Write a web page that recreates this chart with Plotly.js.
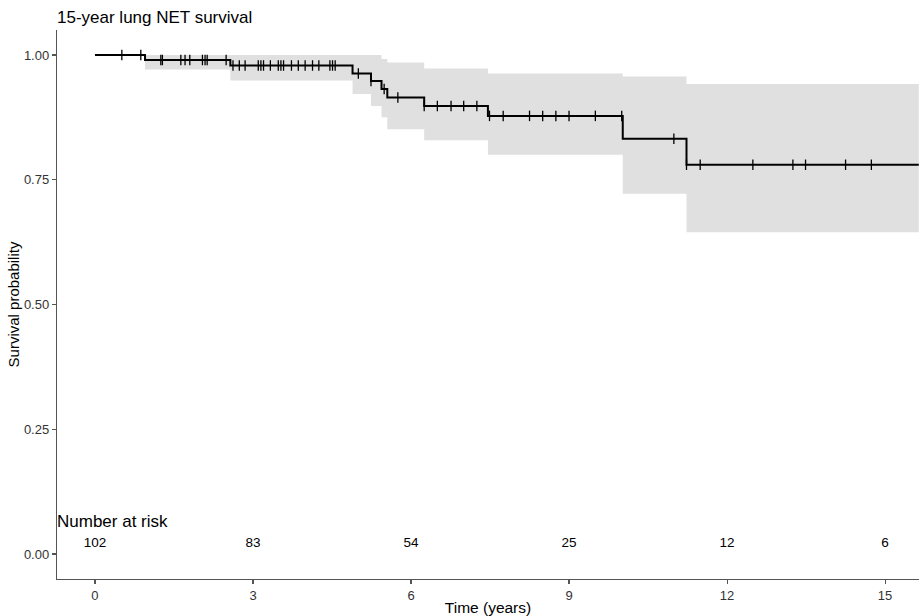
<!DOCTYPE html>
<html>
<head>
<meta charset="utf-8">
<script src="https://cdn.plot.ly/plotly-3.0.1.min.js"></script>
<style>html,body{margin:0;padding:0;background:#fff;}#chart{width:919px;height:616px;}</style>
</head>
<body>
<div id="chart"></div>
<script>
// Kaplan-Meier step data
const eventTimes = [0, 0.95, 2.57, 4.89, 5.24, 5.44, 5.55, 6.25, 7.46, 10.02, 11.23];
const survival   = [1.000, 0.990, 0.979, 0.963, 0.948, 0.932, 0.915, 0.898, 0.878, 0.832, 0.780];
const upperCI    = [1.000, 1.000, 1.000, 1.000, 1.000, 0.992, 0.985, 0.973, 0.963, 0.957, 0.942];
const lowerCI    = [1.000, 0.971, 0.949, 0.922, 0.898, 0.875, 0.851, 0.829, 0.800, 0.722, 0.645];
const followUpEnd = 15.64;

// Censoring times
const censorTimes = [0.51, 0.87, 1.25, 1.28, 1.63, 1.71, 1.80, 2.04, 2.09, 2.13, 2.49,
  2.62, 2.74, 2.85, 3.10, 3.15, 3.20, 3.33, 3.48, 3.53, 3.58, 3.73, 3.86, 3.99, 4.13, 4.25,
  4.46, 4.51, 4.56, 5.00, 5.24, 5.49, 5.75, 6.25, 6.50, 6.76, 7.00, 7.25, 7.49, 7.75, 8.25,
  8.50, 8.75, 9.00, 9.50, 10.00, 10.99, 11.23, 11.49, 12.49, 13.25, 13.49, 14.25, 14.74];

// Number at risk table
const riskTimes  = [0, 3, 6, 9, 12, 15];
const riskCounts = [102, 83, 54, 25, 12, 6];

// Axis ticks
const xTicks = [0, 3, 6, 9, 12, 15];
const yTicks = [0, 0.25, 0.5, 0.75, 1.0];

function stepValue(arrT, arrV, t) {
  let v = arrV[0];
  for (let i = 0; i < arrT.length; i++) { if (arrT[i] <= t) v = arrV[i]; }
  return v;
}

const xs = eventTimes.concat([followUpEnd]);
const ext = a => a.concat([a[a.length - 1]]);
const FONT = 'Liberation Sans, Arial, sans-serif';

const traces = [
  { x: xs, y: ext(lowerCI), mode: 'lines', line: { shape: 'hv', width: 0, color: 'rgba(0,0,0,0)' },
    hoverinfo: 'skip', showlegend: false },
  { x: xs, y: ext(upperCI), mode: 'lines', line: { shape: 'hv', width: 0, color: 'rgba(0,0,0,0)' },
    fill: 'tonexty', fillcolor: '#e0e0e0', hoverinfo: 'skip', showlegend: false },
  { x: xs, y: ext(survival), mode: 'lines', line: { shape: 'hv', width: 2, color: '#000' },
    showlegend: false },
  { x: censorTimes, y: censorTimes.map(t => stepValue(eventTimes, survival, t)), mode: 'markers',
    marker: { symbol: 'line-ns', size: 7.5, line: { width: 1.3, color: '#000' } }, showlegend: false },
  { x: riskTimes, y: riskTimes.map(() => 0.02), mode: 'text', text: riskCounts.map(String),
    textfont: { family: FONT, size: 13.5, color: '#000' },
    textposition: 'middle center', showlegend: false, hoverinfo: 'skip' }
];

const layout = {
  width: 919, height: 616,
  margin: { l: 57, r: 0, t: 30, b: 37 },
  paper_bgcolor: '#fff', plot_bgcolor: '#fff',
  font: { family: FONT, color: '#000' },
  title: { text: '15-year lung NET survival', x: 57 / 919, xref: 'container', xanchor: 'left',
    y: 1 - 17 / 616, yref: 'container', yanchor: 'middle',
    font: { size: 17, color: '#000', family: FONT } },
  xaxis: {
    range: [-0.721, 15.644], tickvals: xTicks, ticktext: xTicks.map(String),
    showline: true, linecolor: '#555', linewidth: 1.2, ticks: 'outside', ticklen: 4,
    tickcolor: '#555', tickwidth: 1.1, showgrid: false, zeroline: false,
    tickfont: { size: 13, color: '#333' },
    title: { text: 'Time (years)', font: { size: 15.5, color: '#000' }, standoff: 2 }
  },
  yaxis: {
    range: [-0.0501, 1.0501], tickvals: yTicks, ticktext: yTicks.map(v => v.toFixed(2)),
    showline: true, linecolor: '#555', linewidth: 1.2, ticks: 'outside', ticklen: 4,
    tickcolor: '#555', tickwidth: 1.1, showgrid: false, zeroline: false,
    tickfont: { size: 13, color: '#333' },
    title: { text: 'Survival probability', font: { size: 15, color: '#000' }, standoff: 0 }
  },
  annotations: [
    { text: 'Number at risk', xref: 'paper', yref: 'y', x: 0, y: 0.066, xanchor: 'left',
      xshift: -2, yanchor: 'middle', showarrow: false, font: { size: 17, color: '#000' } }
  ]
};

Plotly.newPlot('chart', traces, layout, { displayModeBar: false, staticPlot: true });
</script>
</body>
</html>
